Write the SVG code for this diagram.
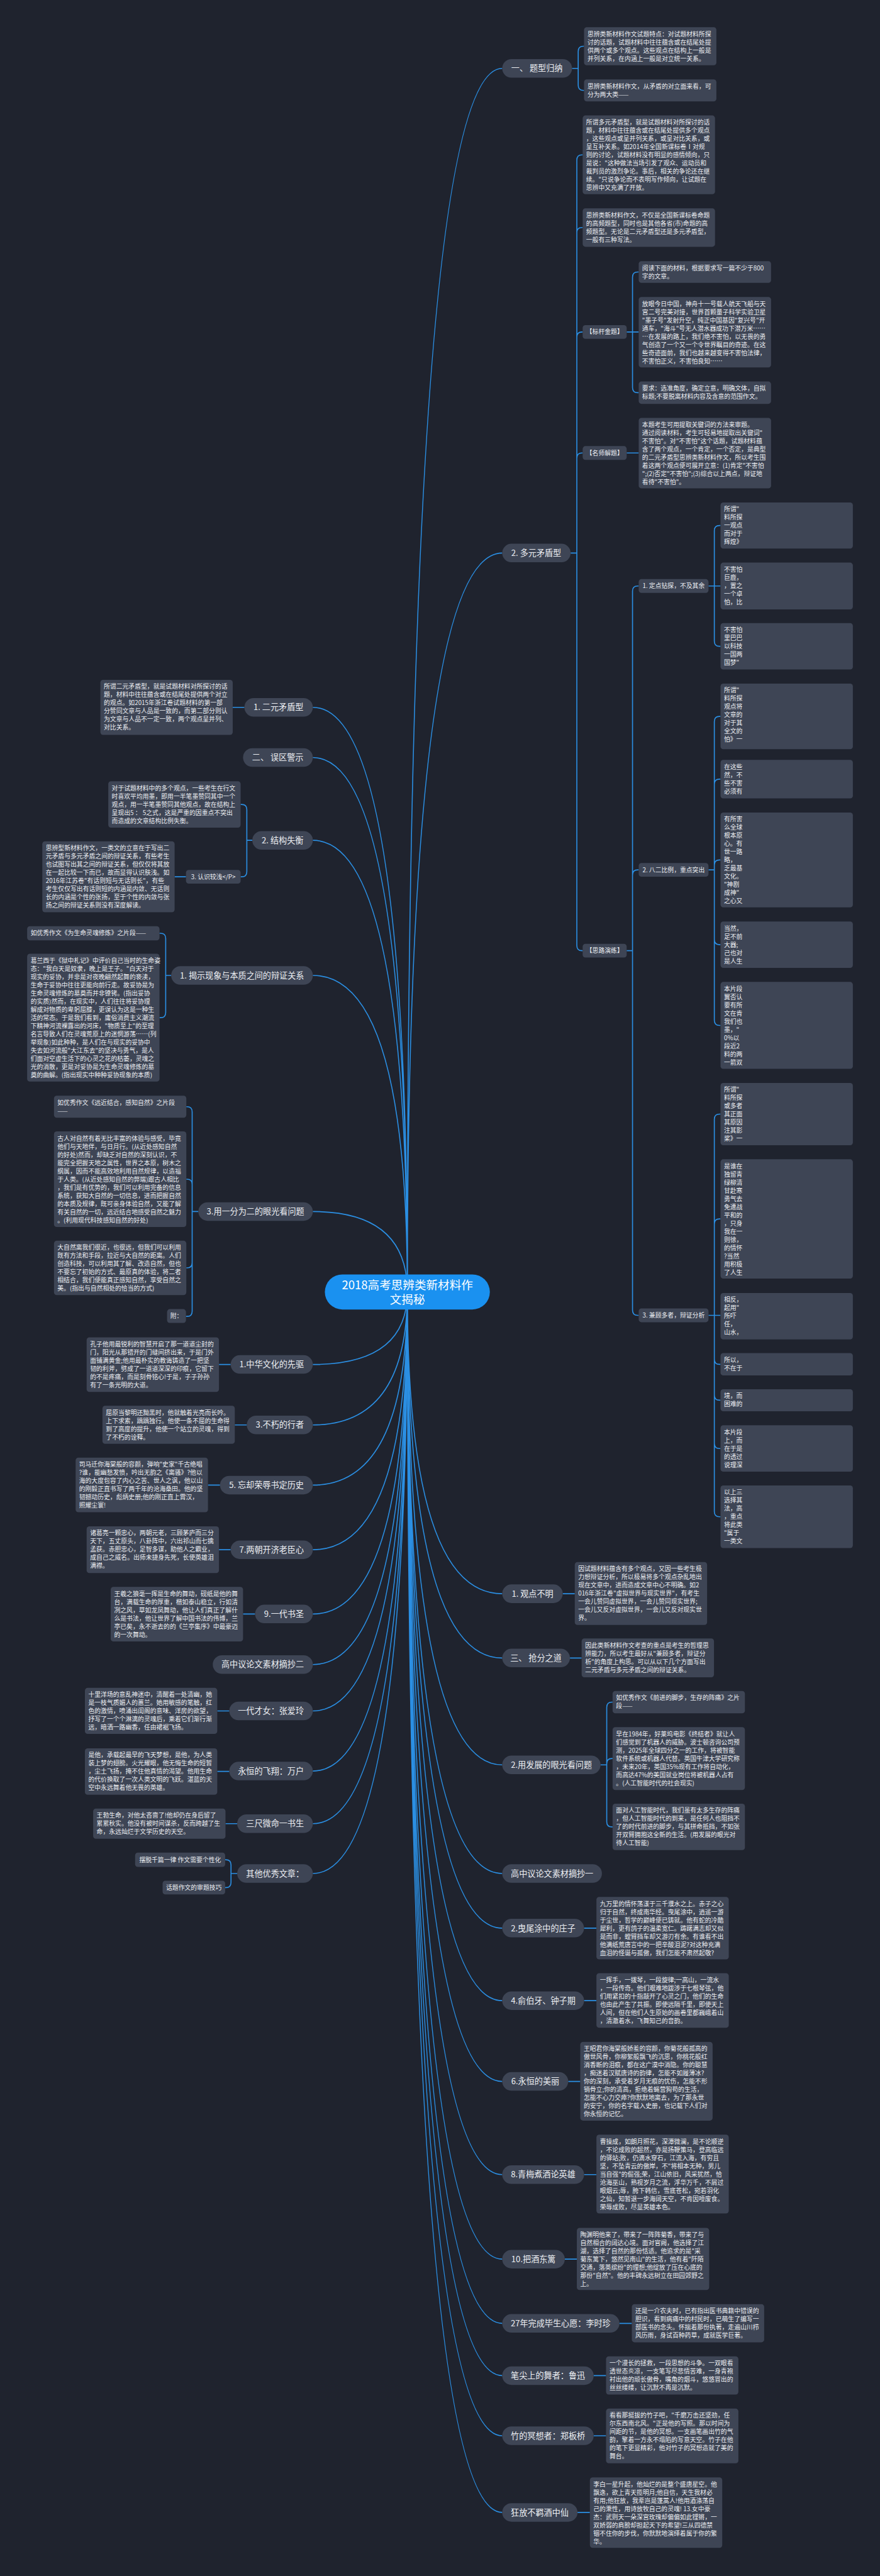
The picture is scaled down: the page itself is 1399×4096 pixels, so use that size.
<svg xmlns="http://www.w3.org/2000/svg" width="1399" height="4096" viewBox="0 0 1399 4096">
<style>
.b{fill:#3e4555}
.t{font-family:"Noto Sans CJK SC","Noto Sans",sans-serif;font-size:18px;fill:#eceef2}
.n{font-size:24px;text-anchor:middle}
.m{text-anchor:middle}
.c{stroke:#2b8fe3;stroke-width:3;fill:none}
</style>
<rect width="1399" height="4096" fill="#1f232e"/>
<g transform="scale(0.5465)">
<g id="connectors" class="c">
<path d="M1185 3759Q1185 199 1461 199M1185 3759Q1185 1609 1461 1609M1185 3759Q1185 4637 1461 4637M1185 3759Q1185 4824 1461 4824M1185 3759Q1185 5135 1461 5135M1185 3759Q1185 5451 1461 5451M1185 3759Q1185 5610 1461 5610M1185 3759Q1185 5821 1461 5821M1185 3759Q1185 6056 1461 6056M1185 3759Q1185 6327 1461 6327M1185 3759Q1185 6573 1461 6573M1185 3759Q1185 6760 1461 6760M1185 3759Q1185 6912 1461 6912M1185 3759Q1185 7087 1461 7087M1185 3759Q1185 7310 1461 7310"/>
<path d="M1185 3759Q1185 2058 910 2058M1185 3759Q1185 2204 910 2204M1185 3759Q1185 2445 910 2445M1185 3759Q1185 2838 910 2838M1185 3759Q1185 3525 910 3525M1185 3759Q1185 3970 910 3970M1185 3759Q1185 4146 910 4146M1185 3759Q1185 4321 910 4321M1185 3759Q1185 4509 910 4509M1185 3759Q1185 4696 910 4696M1185 3759Q1185 4843 910 4843M1185 3759Q1185 4978 910 4978M1185 3759Q1185 5153 910 5153M1185 3759Q1185 5306 910 5306M1185 3759Q1185 5451 910 5451"/>
<path d="M1664 199H1682M1682 199V149.5Q1682 134.5 1697 134.5H1699M1682 199V248Q1682 263 1697 263H1699"/>
<path d="M1660 1609H1678M1678 1609V465.5Q1678 450.5 1693 450.5H1695M1678 1609V677Q1678 662 1693 662H1695M1678 1609V981Q1678 966 1693 966H1695M1678 1609V1333Q1678 1318 1693 1318H1695M1678 1609V2751Q1678 2766 1693 2766H1695"/>
<path d="M1823 966H1858M1840 966V806.5Q1840 791.5 1855 791.5H1858M1840 966V1127.5Q1840 1142.5 1855 1142.5H1858M1823 1318H1858"/>
<path d="M1823 2766H1840M1840 2766V1720Q1840 1705 1855 1705H1858M1840 2766V2546Q1840 2531 1855 2531H1858M1840 2766V3812Q1840 3827 1855 3827H1858"/>
<path d="M2061 1705H2096M2078 1705V1544Q2078 1529 2093 1529H2096M2078 1705V1865.5Q2078 1880.5 2093 1880.5H2096"/>
<path d="M2061 2531H2078M2078 2531V2099.5Q2078 2084.5 2093 2084.5H2096M2078 2531V2282Q2078 2267 2093 2267H2096M2078 2531V2517Q2078 2502 2093 2502H2096M2078 2531V2733.5Q2078 2748.5 2093 2748.5H2096M2078 2531V2968.5Q2078 2983.5 2093 2983.5H2096"/>
<path d="M2061 3827H2096M2078 3827V3256.5Q2078 3241.5 2093 3241.5H2096M2078 3827V3561.5Q2078 3546.5 2093 3546.5H2096M2078 3827V3954.5Q2078 3969.5 2093 3969.5H2096M2078 3827V4059Q2078 4074 2093 4074H2096M2078 3827V4199.5Q2078 4214.5 2093 4214.5H2096M2078 3827V4398Q2078 4413 2093 4413H2096"/>
<path d="M1637 4637H1672M1658 4824H1692"/>
<path d="M1747 5135H1765M1765 5135V4967.5Q1765 4952.5 1780 4952.5H1782M1765 5135V5131.5Q1765 5116.5 1780 5116.5H1782M1765 5135V5300.5Q1765 5315.5 1780 5315.5H1782"/>
<path d="M1699 5610H1735M1699 5821H1735M1653 6056H1688M1699 6327H1735M1643 6573H1678M1802 6760H1838M1727 6912H1763M1727 7087H1763M1680 7310H1716"/>
<path d="M677 2058H711M734 2445H718M718 2445V2355.5Q718 2340.5 703 2340.5H700M718 2445V2536Q718 2551 703 2551H700M541 2551H508"/>
<path d="M498 2838H482M482 2838V2730.5Q482 2715.5 467 2715.5H464M482 2838V2946Q482 2961 467 2961H464"/>
<path d="M577 3525H559M559 3525V3235Q559 3220 544 3220H542M559 3525V3446Q559 3431 544 3431H542M559 3525V3674Q559 3689 544 3689H542M559 3525V3815Q559 3830 544 3830H541"/>
<path d="M637 3970H671M683 4146H718M605 4321H640M637 4509H671M707 4696H742M632 4978H667M632 5154H667M656 5306H690"/>
<path d="M690 5451H672M672 5451V5426Q672 5411 657 5411H655M672 5451V5477Q672 5492 657 5492H655"/>
</g>
<g id="root"><rect x="945" y="3708" width="480" height="102" rx="51" fill="#1a91f0"/><text class="t m" x="1185" y="3752" style="font-size:34px;fill:#fff">2018高考思辨类新材料作</text><text class="t m" x="1185" y="3794" style="font-size:34px;fill:#fff">文揭秘</text></g>
<g id="main-nodes">
<g id="n-r1"><rect class="b" x="1461" y="172" width="203" height="54" rx="27"/><text class="t n" x="1562" y="207.5">一、 题型归纳</text></g>
<g id="n-r2"><rect class="b" x="1461" y="1582" width="199" height="54" rx="27"/><text class="t n" x="1560" y="1617.5">2. 多元矛盾型</text></g>
<g id="n-r3"><rect class="b" x="1461" y="4610" width="176" height="54" rx="27"/><text class="t n" x="1549" y="4645.5">1. 观点不明</text></g>
<g id="n-r4"><rect class="b" x="1461" y="4797" width="197" height="54" rx="27"/><text class="t n" x="1559" y="4832.5">三、 抢分之道</text></g>
<g id="n-r5"><rect class="b" x="1461" y="5108" width="286" height="54" rx="27"/><text class="t n" x="1604" y="5143.5">2.用发展的眼光看问题</text></g>
<g id="n-r6"><rect class="b" x="1461" y="5424" width="290" height="54" rx="27"/><text class="t n" x="1606" y="5459.5">高中议论文素材摘抄一</text></g>
<g id="n-r7"><rect class="b" x="1461" y="5583" width="238" height="54" rx="27"/><text class="t n" x="1580" y="5618.5">2.曳尾涂中的庄子</text></g>
<g id="n-r8"><rect class="b" x="1461" y="5794" width="238" height="54" rx="27"/><text class="t n" x="1580" y="5829.5">4.俞伯牙、钟子期</text></g>
<g id="n-r9"><rect class="b" x="1461" y="6029" width="192" height="54" rx="27"/><text class="t n" x="1557" y="6064.5">6.永恒的美丽</text></g>
<g id="n-r10"><rect class="b" x="1461" y="6300" width="238" height="54" rx="27"/><text class="t n" x="1580" y="6335.5">8.青梅煮酒论英雄</text></g>
<g id="n-r11"><rect class="b" x="1461" y="6546" width="182" height="54" rx="27"/><text class="t n" x="1552" y="6581.5">10.把酒东篱</text></g>
<g id="n-r12"><rect class="b" x="1461" y="6733" width="341" height="54" rx="27"/><text class="t n" x="1631" y="6768.5">27年完成毕生心愿：李时珍</text></g>
<g id="n-r13"><rect class="b" x="1461" y="6885" width="266" height="54" rx="27"/><text class="t n" x="1594" y="6920.5">笔尖上的舞者：鲁迅</text></g>
<g id="n-r14"><rect class="b" x="1461" y="7060" width="266" height="54" rx="27"/><text class="t n" x="1594" y="7095.5">竹的冥想者：郑板桥</text></g>
<g id="n-r15"><rect class="b" x="1461" y="7283" width="219" height="54" rx="27"/><text class="t n" x="1570" y="7318.5">狂放不羁酒中仙</text></g>
<g id="n-l1"><rect class="b" x="711" y="2031" width="199" height="54" rx="27"/><text class="t n" x="810" y="2066.5">1. 二元矛盾型</text></g>
<g id="n-l2"><rect class="b" x="707" y="2177" width="203" height="54" rx="27"/><text class="t n" x="808" y="2212.5">二、 误区警示</text></g>
<g id="n-l3"><rect class="b" x="734" y="2418" width="176" height="54" rx="27"/><text class="t n" x="822" y="2453.5">2. 结构失衡</text></g>
<g id="n-l4"><rect class="b" x="498" y="2811" width="412" height="54" rx="27"/><text class="t n" x="704" y="2846.5">1. 揭示现象与本质之间的辩证关系</text></g>
<g id="n-l5"><rect class="b" x="577" y="3498" width="333" height="54" rx="27"/><text class="t n" x="743" y="3533.5">3.用一分为二的眼光看问题</text></g>
<g id="n-l6"><rect class="b" x="671" y="3943" width="239" height="54" rx="27"/><text class="t n" x="790" y="3978.5">1.中华文化的先驱</text></g>
<g id="n-l7"><rect class="b" x="718" y="4119" width="192" height="54" rx="27"/><text class="t n" x="814" y="4154.5">3.不朽的行者</text></g>
<g id="n-l8"><rect class="b" x="640" y="4294" width="270" height="54" rx="27"/><text class="t n" x="775" y="4329.5">5. 忘却荣辱书定历史</text></g>
<g id="n-l9"><rect class="b" x="671" y="4482" width="239" height="54" rx="27"/><text class="t n" x="790" y="4517.5">7.两朝开济老臣心</text></g>
<g id="n-l10"><rect class="b" x="742" y="4669" width="168" height="54" rx="27"/><text class="t n" x="826" y="4704.5">9.一代书圣</text></g>
<g id="n-l11"><rect class="b" x="619" y="4816" width="291" height="54" rx="27"/><text class="t n" x="764" y="4851.5">高中议论文素材摘抄二</text></g>
<g id="n-l12"><rect class="b" x="667" y="4951" width="243" height="54" rx="27"/><text class="t n" x="788" y="4986.5">一代才女：张爱玲</text></g>
<g id="n-l13"><rect class="b" x="667" y="5126" width="243" height="54" rx="27"/><text class="t n" x="788" y="5161.5">永恒的飞翔：万户</text></g>
<g id="n-l14"><rect class="b" x="690" y="5279" width="220" height="54" rx="27"/><text class="t n" x="800" y="5314.5">三尺微命一书生</text></g>
<g id="n-l15"><rect class="b" x="690" y="5424" width="220" height="54" rx="27"/><text class="t n" x="800" y="5459.5">其他优秀文章：</text></g>
</g>
<g id="sub-nodes">
<g id="s1"><rect class="b" x="1695" y="946" width="128" height="40" rx="8"/><text class="t m" x="1759" y="972.5">【标杆金题】</text></g>
<g id="s2"><rect class="b" x="1695" y="1298" width="128" height="40" rx="8"/><text class="t m" x="1759" y="1324.5">【名师解题】</text></g>
<g id="s3"><rect class="b" x="1695" y="2746" width="128" height="40" rx="8"/><text class="t m" x="1759" y="2772.5">【思路演练】</text></g>
<g id="s4"><rect class="b" x="1858" y="1685" width="203" height="40" rx="8"/><text class="t m" x="1959.5" y="1711.5">1. 定点钻探，不及其余</text></g>
<g id="s5"><rect class="b" x="1858" y="2511" width="203" height="40" rx="8"/><text class="t m" x="1959.5" y="2537.5">2. 八二比例，重点突出</text></g>
<g id="s6"><rect class="b" x="1858" y="3807" width="203" height="40" rx="8"/><text class="t m" x="1959.5" y="3833.5">3. 兼顾多者，辩证分析</text></g>
<g id="s7"><rect class="b" x="541" y="2531" width="159" height="40" rx="8"/><text class="t m" x="620.5" y="2557.5">3. 认识较浅&lt;/P&gt;</text></g>
<g id="s8"><rect class="b" x="486" y="3809" width="55" height="40" rx="8"/><text class="t m" x="513.5" y="3835.5">附：</text></g>
<g id="s9"><rect class="b" x="393" y="5390" width="262" height="42" rx="8"/><text class="t m" x="524" y="5417.5">摆脱千篇一律 作文需要个性化</text></g>
<g id="s10"><rect class="b" x="473" y="5472" width="182" height="40" rx="8"/><text class="t m" x="564" y="5498.5">话题作文的审题技巧</text></g>
</g>
<g id="boxes">
<g id="A1"><rect class="b" x="1699" y="79" width="385" height="111" rx="8"/><text class="t" transform="translate(1709,105.4)"><tspan x="0" y="0">思辨类新材料作文试题特点：对试题材料所探</tspan><tspan x="0" y="23.8">讨的话题，试题材料中往往蕴含或在结尾处提</tspan><tspan x="0" y="47.6">供两个或多个观点。这些观点在结构上一般是</tspan><tspan x="0" y="71.4">并列关系，在内涵上一般是对立统一关系。</tspan></text></g>
<g id="A2"><rect class="b" x="1699" y="231" width="385" height="64" rx="8"/><text class="t" transform="translate(1709,257.4)"><tspan x="0" y="0">思辨类新材料作文，从矛盾的对立面来看，可</tspan><tspan x="0" y="23.8">分为两大类——</tspan></text></g>
<g id="B1"><rect class="b" x="1695" y="336" width="385" height="229" rx="8"/><text class="t" transform="translate(1705,362.4)"><tspan x="0" y="0">所谓多元矛盾型，就是试题材料对所探讨的话</tspan><tspan x="0" y="23.8">题，材料中往往蕴含或在结尾处提供多个观点</tspan><tspan x="0" y="47.6">，这些观点或呈并列关系，或呈对比关系，或</tspan><tspan x="0" y="71.4">呈互补关系。如2014年全国新课标卷Ⅰ对规</tspan><tspan x="0" y="95.2">则的讨论，试题材料没有明显的感情倾向，只</tspan><tspan x="0" y="119">是说："这种做法当场引发了观众、运动员和</tspan><tspan x="0" y="142.8">裁判员的激烈争论。事后，相关的争论还在继</tspan><tspan x="0" y="166.6">续。"只说争论而不表明写作倾向，让试题在</tspan><tspan x="0" y="190.4">思辨中又充满了开放。</tspan></text></g>
<g id="B2"><rect class="b" x="1695" y="606" width="385" height="112" rx="8"/><text class="t" transform="translate(1705,632.4)"><tspan x="0" y="0">思辨类新材料作文，不仅是全国新课标卷命题</tspan><tspan x="0" y="23.8">的高频题型，同时也是其他各省(市)命题的高</tspan><tspan x="0" y="47.6">频题型。无论是二元矛盾型还是多元矛盾型，</tspan><tspan x="0" y="71.4">一般有三种写法。</tspan></text></g>
<g id="C1"><rect class="b" x="1858" y="760" width="385" height="63" rx="8"/><text class="t" transform="translate(1868,786.4)"><tspan x="0" y="0">阅读下面的材料，根据要求写一篇不少于800</tspan><tspan x="0" y="23.8">字的文章。</tspan></text></g>
<g id="C2"><rect class="b" x="1858" y="864" width="385" height="205" rx="8"/><text class="t" transform="translate(1868,890.4)"><tspan x="0" y="0">放眼今日中国，神舟十一号载人航天飞船与天</tspan><tspan x="0" y="23.8">宫二号完美对接，世界首颗量子科学实验卫星</tspan><tspan x="0" y="47.6">"墨子号"发射升空，纯正中国基因"复兴号"开</tspan><tspan x="0" y="71.4">通车，"海斗"号无人潜水器成功下潜万米……</tspan><tspan x="0" y="95.2">…在发展的路上，我们绝不害怕，以无畏的勇</tspan><tspan x="0" y="119">气创造了一个又一个令世界瞩目的奇迹。在这</tspan><tspan x="0" y="142.8">些奇迹面前，我们也越来越变得不害怕法律，</tspan><tspan x="0" y="166.6">不害怕正义，不害怕良知……</tspan></text></g>
<g id="C3"><rect class="b" x="1858" y="1110" width="385" height="65" rx="8"/><text class="t" transform="translate(1868,1136.4)"><tspan x="0" y="0">要求：选准角度，确定立意，明确文体，自拟</tspan><tspan x="0" y="23.8">标题;不要脱离材料内容及含意的范围作文。</tspan></text></g>
<g id="D1"><rect class="b" x="1858" y="1216" width="385" height="205" rx="8"/><text class="t" transform="translate(1868,1242.4)"><tspan x="0" y="0">本题考生可用提取关键词的方法来审题。</tspan><tspan x="0" y="23.8">通过阅读材料，考生可轻易地提取出关键词"</tspan><tspan x="0" y="47.6">不害怕"。对"不害怕"这个话题，试题材料蕴</tspan><tspan x="0" y="71.4">含了两个观点，一个肯定，一个否定，是典型</tspan><tspan x="0" y="95.2">的二元矛盾型思辨类新材料作文，所以考生围</tspan><tspan x="0" y="119">着这两个观点便可展开立意：(1)肯定"不害怕</tspan><tspan x="0" y="142.8">";(2)否定"不害怕";(3)综合以上两点，辩证地</tspan><tspan x="0" y="166.6">看待"不害怕"。</tspan></text></g>
<g id="E1"><rect class="b" x="2096" y="1462" width="385" height="134" rx="8"/><text class="t" transform="translate(2106,1488.4)"><tspan x="0" y="0">所谓"</tspan><tspan x="0" y="23.8">料所探</tspan><tspan x="0" y="47.6">一观点</tspan><tspan x="0" y="71.4">而对于</tspan><tspan x="0" y="95.2">辉煌》</tspan></text></g>
<g id="E2"><rect class="b" x="2096" y="1637" width="385" height="136" rx="8"/><text class="t" transform="translate(2106,1663.4)"><tspan x="0" y="0">不害怕</tspan><tspan x="0" y="23.8">巨鹿，</tspan><tspan x="0" y="47.6">，置之</tspan><tspan x="0" y="71.4">一个卓</tspan><tspan x="0" y="95.2">怕，比</tspan></text></g>
<g id="E3"><rect class="b" x="2096" y="1813" width="385" height="135" rx="8"/><text class="t" transform="translate(2106,1839.4)"><tspan x="0" y="0">不害怕</tspan><tspan x="0" y="23.8">里巴巴</tspan><tspan x="0" y="47.6">以科技</tspan><tspan x="0" y="71.4">一国两</tspan><tspan x="0" y="95.2">国梦"</tspan></text></g>
<g id="F1"><rect class="b" x="2096" y="1989" width="385" height="191" rx="8"/><text class="t" transform="translate(2106,2015.4)"><tspan x="0" y="0">所谓"</tspan><tspan x="0" y="23.8">料所探</tspan><tspan x="0" y="47.6">观点将</tspan><tspan x="0" y="71.4">文章的</tspan><tspan x="0" y="95.2">对于其</tspan><tspan x="0" y="119">全文的</tspan><tspan x="0" y="142.8">怕》一</tspan></text></g>
<g id="F2"><rect class="b" x="2096" y="2211" width="385" height="112" rx="8"/><text class="t" transform="translate(2106,2237.4)"><tspan x="0" y="0">在这些</tspan><tspan x="0" y="23.8">然，不</tspan><tspan x="0" y="47.6">些不害</tspan><tspan x="0" y="71.4">必须有</tspan></text></g>
<g id="F3"><rect class="b" x="2096" y="2364" width="385" height="276" rx="8"/><text class="t" transform="translate(2106,2390.4)"><tspan x="0" y="0">有所害</tspan><tspan x="0" y="23.8">么全球</tspan><tspan x="0" y="47.6">根本原</tspan><tspan x="0" y="71.4">心。有</tspan><tspan x="0" y="95.2">世一路</tspan><tspan x="0" y="119">略，</tspan><tspan x="0" y="142.8">乏最基</tspan><tspan x="0" y="166.6">文化。</tspan><tspan x="0" y="190.4">"神剧</tspan><tspan x="0" y="214.2">成神"</tspan><tspan x="0" y="238">之心又</tspan></text></g>
<g id="F4"><rect class="b" x="2096" y="2681" width="385" height="135" rx="8"/><text class="t" transform="translate(2106,2707.4)"><tspan x="0" y="0">当然，</tspan><tspan x="0" y="23.8">足不前</tspan><tspan x="0" y="47.6">大器;</tspan><tspan x="0" y="71.4">己也对</tspan><tspan x="0" y="95.2">是人生</tspan></text></g>
<g id="F5"><rect class="b" x="2096" y="2857" width="385" height="253" rx="8"/><text class="t" transform="translate(2106,2883.4)"><tspan x="0" y="0">本片段</tspan><tspan x="0" y="23.8">翼否认</tspan><tspan x="0" y="47.6">要有所</tspan><tspan x="0" y="71.4">文在肯</tspan><tspan x="0" y="95.2">我们也</tspan><tspan x="0" y="119">墨，"</tspan><tspan x="0" y="142.8">0%以</tspan><tspan x="0" y="166.6">段近2</tspan><tspan x="0" y="190.4">料的两</tspan><tspan x="0" y="214.2">一箭双</tspan></text></g>
<g id="G1"><rect class="b" x="2096" y="3151" width="385" height="181" rx="8"/><text class="t" transform="translate(2106,3177.4)"><tspan x="0" y="0">所谓"</tspan><tspan x="0" y="23.8">料所探</tspan><tspan x="0" y="47.6">或多者</tspan><tspan x="0" y="71.4">其正面</tspan><tspan x="0" y="95.2">其原因</tspan><tspan x="0" y="119">注其影</tspan><tspan x="0" y="142.8">桨》一</tspan></text></g>
<g id="G2"><rect class="b" x="2096" y="3373" width="385" height="347" rx="8"/><text class="t" transform="translate(2106,3399.4)"><tspan x="0" y="0">是谁在</tspan><tspan x="0" y="23.8">独留青</tspan><tspan x="0" y="47.6">绿柳清</tspan><tspan x="0" y="71.4">甘赴寒</tspan><tspan x="0" y="95.2">勇气去</tspan><tspan x="0" y="119">免遭战</tspan><tspan x="0" y="142.8">平和的</tspan><tspan x="0" y="166.6">，只身</tspan><tspan x="0" y="190.4">我在一</tspan><tspan x="0" y="214.2">则徐，</tspan><tspan x="0" y="238">的情怀</tspan><tspan x="0" y="261.8">?当然</tspan><tspan x="0" y="285.6">用积极</tspan><tspan x="0" y="309.4">了人生</tspan></text></g>
<g id="G3"><rect class="b" x="2096" y="3762" width="385" height="135" rx="8"/><text class="t" transform="translate(2106,3788.4)"><tspan x="0" y="0">相反，</tspan><tspan x="0" y="23.8">起用"</tspan><tspan x="0" y="47.6">所吓</tspan><tspan x="0" y="71.4">任，</tspan><tspan x="0" y="95.2">山水，</tspan></text></g>
<g id="G4"><rect class="b" x="2096" y="3937" width="385" height="65" rx="8"/><text class="t" transform="translate(2106,3963.4)"><tspan x="0" y="0">所以，</tspan><tspan x="0" y="23.8">不在于</tspan></text></g>
<g id="G5"><rect class="b" x="2096" y="4042" width="385" height="64" rx="8"/><text class="t" transform="translate(2106,4068.4)"><tspan x="0" y="0">境，而</tspan><tspan x="0" y="23.8">困难的</tspan></text></g>
<g id="G6"><rect class="b" x="2096" y="4147" width="385" height="135" rx="8"/><text class="t" transform="translate(2106,4173.4)"><tspan x="0" y="0">本片段</tspan><tspan x="0" y="23.8">上，而</tspan><tspan x="0" y="47.6">在于是</tspan><tspan x="0" y="71.4">的透过</tspan><tspan x="0" y="95.2">说理深</tspan></text></g>
<g id="G7"><rect class="b" x="2096" y="4322" width="385" height="182" rx="8"/><text class="t" transform="translate(2106,4348.4)"><tspan x="0" y="0">以上三</tspan><tspan x="0" y="23.8">选择其</tspan><tspan x="0" y="47.6">法，高</tspan><tspan x="0" y="71.4">，重点</tspan><tspan x="0" y="95.2">将此类</tspan><tspan x="0" y="119">"属于</tspan><tspan x="0" y="142.8">一类文</tspan></text></g>
<g id="P1"><rect class="b" x="1672" y="4545" width="385" height="183" rx="8"/><text class="t" transform="translate(1682,4571.4)"><tspan x="0" y="0">因试题材料蕴含有多个观点，又因一些考生极</tspan><tspan x="0" y="23.8">力想辩证分析，所以极易将多个观点杂乱地出</tspan><tspan x="0" y="47.6">现在文章中，进而造成文章中心不明确。如2</tspan><tspan x="0" y="71.4">016年浙江卷"虚拟世界与现实世界"，有考生</tspan><tspan x="0" y="95.2">一会儿赞同虚拟世界，一会儿赞同现实世界;</tspan><tspan x="0" y="119">一会儿又反对虚拟世界，一会儿又反对现实世</tspan><tspan x="0" y="142.8">界。</tspan></text></g>
<g id="P2"><rect class="b" x="1692" y="4767" width="385" height="113" rx="8"/><text class="t" transform="translate(1702,4793.4)"><tspan x="0" y="0">因此类新材料作文考查的重点是考生的哲理思</tspan><tspan x="0" y="23.8">辨能力，所以考生最好从"兼顾多者，辩证分</tspan><tspan x="0" y="47.6">析"的角度上构思。可以从以下几个方面写出</tspan><tspan x="0" y="71.4">二元矛盾与多元矛盾之间的辩证关系。</tspan></text></g>
<g id="H1"><rect class="b" x="1782" y="4920" width="385" height="65" rx="8"/><text class="t" transform="translate(1792,4946.4)"><tspan x="0" y="0">如优秀作文《前进的脚步，生存的阵痛》之片</tspan><tspan x="0" y="23.8">段——</tspan></text></g>
<g id="H2"><rect class="b" x="1782" y="5025" width="385" height="183" rx="8"/><text class="t" transform="translate(1792,5051.4)"><tspan x="0" y="0">早在1984年，好莱坞电影《终结者》就让人</tspan><tspan x="0" y="23.8">们感觉到了机器人的威胁。波士顿咨询公司预</tspan><tspan x="0" y="47.6">测，2025年全球四分之一的工作，将被智能</tspan><tspan x="0" y="71.4">软件系统或机器人代替。英国牛津大学研究称</tspan><tspan x="0" y="95.2">，未来20年，英国35%现有工作将自动化，</tspan><tspan x="0" y="119">而高达47%的美国就业岗位将被机器人占有</tspan><tspan x="0" y="142.8">。(人工智能时代的社会现实)</tspan></text></g>
<g id="H3"><rect class="b" x="1782" y="5248" width="385" height="135" rx="8"/><text class="t" transform="translate(1792,5274.4)"><tspan x="0" y="0">面对人工智能时代，我们虽有太多生存的阵痛</tspan><tspan x="0" y="23.8">，但人工智能时代的到来，是任何人也阻挡不</tspan><tspan x="0" y="47.6">了的时代前进的脚步，与其拼命抵挡，不如张</tspan><tspan x="0" y="71.4">开双臂拥抱这全新的生活。(用发展的眼光对</tspan><tspan x="0" y="95.2">待人工智能)</tspan></text></g>
<g id="I1"><rect class="b" x="1735" y="5519" width="385" height="182" rx="8"/><text class="t" transform="translate(1745,5545.4)"><tspan x="0" y="0">九万里的情怀荡漾于三千濮水之上。赤子之心</tspan><tspan x="0" y="23.8">归于自然，终成南华经。曳尾涂中，逍遥一游</tspan><tspan x="0" y="47.6">于尘世，哲学的巅峰便已铸就。他有蛇的冷酷</tspan><tspan x="0" y="71.4">犀利，更有鸽子的温柔宽仁。踌躇满志却又似</tspan><tspan x="0" y="95.2">是而非，螳臂挡车却又游刃有余。有谁看不出</tspan><tspan x="0" y="119">他满纸荒唐言中的一把辛酸泪泥?对这种充满</tspan><tspan x="0" y="142.8">血泪的怪诞与孤傲，我们怎能不肃然起敬?</tspan></text></g>
<g id="I2"><rect class="b" x="1735" y="5741" width="385" height="159" rx="8"/><text class="t" transform="translate(1745,5767.4)"><tspan x="0" y="0">一挥手，一拨琴，一段旋律;一高山，一流水</tspan><tspan x="0" y="23.8">，一段传奇。他们艰难地跋涉于七根琴弦，他</tspan><tspan x="0" y="47.6">们用紧扣的十指敲开了心灵之门，他们的生命</tspan><tspan x="0" y="71.4">也由此产生了共振。即使远隔千里，即使天上</tspan><tspan x="0" y="95.2">人间，但在他们人生原始的画卷里都巍峨着山</tspan><tspan x="0" y="119">，清澈着水，飞舞知己的音韵。</tspan></text></g>
<g id="I3"><rect class="b" x="1688" y="5941" width="385" height="229" rx="8"/><text class="t" transform="translate(1698,5967.4)"><tspan x="0" y="0">王昭君你海棠般娇羞的容颜，你菊花般孤高的</tspan><tspan x="0" y="23.8">傲世风骨，你柳絮般飘飞的沉思，你桃花般红</tspan><tspan x="0" y="47.6">消香断的泪痕，都在这广漠中消隐。你的聪慧</tspan><tspan x="0" y="71.4">，痴迷着汉赋唐诗的韵律，怎能不如履薄冰?</tspan><tspan x="0" y="95.2">你的深刻，承受着岁月无痕的忧伤，怎能不形</tspan><tspan x="0" y="119">销骨立;你的清高，拒绝着蝇营狗苟的生活，</tspan><tspan x="0" y="142.8">怎能不心力交瘁?你默默地离去，为了那永世</tspan><tspan x="0" y="166.6">的安宁，你的名字载入史册，也记载下人们对</tspan><tspan x="0" y="190.4">你永恒的记忆。</tspan></text></g>
<g id="I4"><rect class="b" x="1735" y="6211" width="385" height="229" rx="8"/><text class="t" transform="translate(1745,6237.4)"><tspan x="0" y="0">曹操成，如朗月照花，深潭微澜，是不论顺逆</tspan><tspan x="0" y="23.8">，不论成败的超然，亦是扬鞭策马，登高临远</tspan><tspan x="0" y="47.6">的驿站;败，仍滴水穿石，江流入海，有穷且</tspan><tspan x="0" y="71.4">坚，不坠青云的傲岸，不"将相本无种，男儿</tspan><tspan x="0" y="95.2">当自强"的倔强;荣，江山依旧，风采犹然，恰</tspan><tspan x="0" y="119">沧海巫山，熟视岁月之流，浮华万千，不屑过</tspan><tspan x="0" y="142.8">眼烟云;辱，胯下韩信，雪底苍松，宛若羽化</tspan><tspan x="0" y="166.6">之仙，知暂退一步海阔天空，不肯因噎废食。</tspan><tspan x="0" y="190.4">荣辱成败，尽显英雄本色。</tspan></text></g>
<g id="I5"><rect class="b" x="1678" y="6482" width="385" height="181" rx="8"/><text class="t" transform="translate(1688,6508.4)"><tspan x="0" y="0">陶渊明他来了，带来了一阵阵菊香，带来了与</tspan><tspan x="0" y="23.8">自然相合的阔达心境。面对官阙，他选择了江</tspan><tspan x="0" y="47.6">湖，选择了自然的那份恬适。他追求的是"采</tspan><tspan x="0" y="71.4">菊东篱下，悠然见南山"的生活，他有着"阡陌</tspan><tspan x="0" y="95.2">交通，落英缤纷"的理想;他绽放了压在心底的</tspan><tspan x="0" y="119">那份"自然"。他的丰碑永远树立在田园郊野之</tspan><tspan x="0" y="142.8">上。</tspan></text></g>
<g id="I6"><rect class="b" x="1838" y="6704" width="385" height="111" rx="8"/><text class="t" transform="translate(1848,6730.4)"><tspan x="0" y="0">还是一介农夫时，已有指出医书典籍中错误的</tspan><tspan x="0" y="23.8">胆识，看到病痛中的村民时，已萌生了编写一</tspan><tspan x="0" y="47.6">部医书的念头。怀揣着那份执著，走遍山川栉</tspan><tspan x="0" y="71.4">风历雨，身试百种药草，成就医学巨著。</tspan></text></g>
<g id="I7"><rect class="b" x="1763" y="6856" width="385" height="111" rx="8"/><text class="t" transform="translate(1773,6882.4)"><tspan x="0" y="0">一个漫长的拯救，一段思想的斗争。一双眼看</tspan><tspan x="0" y="23.8">透世态炎凉，一支笔写尽悲情苦难，一身青袍</tspan><tspan x="0" y="47.6">衬出他的顽长傲骨，嘴角的烟斗，悠悠冒出的</tspan><tspan x="0" y="71.4">丝丝缕缕，让沉默不再是沉默。</tspan></text></g>
<g id="I8"><rect class="b" x="1763" y="7008" width="385" height="159" rx="8"/><text class="t" transform="translate(1773,7034.4)"><tspan x="0" y="0">看看那挺拔的竹子吧，"千磨万击还坚劲，任</tspan><tspan x="0" y="23.8">尔东西南北风。"正是他的写照。那以时间为</tspan><tspan x="0" y="47.6">间距的节，是他的冥想。一支画笔画出竹的气</tspan><tspan x="0" y="71.4">韵，擎着一方永不塌陷的写意天空。竹子在他</tspan><tspan x="0" y="95.2">的笔下更显精彩，他对竹子的冥想造就了美的</tspan><tspan x="0" y="119">舞台。</tspan></text></g>
<g id="I9"><rect class="b" x="1716" y="7208" width="385" height="205" rx="8"/><text class="t" transform="translate(1726,7234.4)"><tspan x="0" y="0">李白一星升起，他灿烂的是整个盛唐星空。他</tspan><tspan x="0" y="23.8">飘逸，欲上青天揽明月;他自信，天生我材必</tspan><tspan x="0" y="47.6">有用;他狂放，我辈岂是蓬蒿人!他用酒涤荡自</tspan><tspan x="0" y="71.4">己的秉性，用诗放牧自己的灵魂! 13.女中豪</tspan><tspan x="0" y="95.2">杰：武则天一朵深宫玫瑰却偏偏如此铿锵，一</tspan><tspan x="0" y="119">双娇弱的肩膀却担起天下的希望!三从四德禁</tspan><tspan x="0" y="142.8">锢不住你的步伐，你默默地演绎着属于你的繁</tspan><tspan x="0" y="166.6">华。</tspan></text></g>
<g id="K1"><rect class="b" x="292" y="1978" width="385" height="160" rx="8"/><text class="t" transform="translate(302,2004.4)"><tspan x="0" y="0">所谓二元矛盾型，就是试题材料对所探讨的话</tspan><tspan x="0" y="23.8">题，材料中往往蕴含或在结尾处提供两个对立</tspan><tspan x="0" y="47.6">的观点。如2015年浙江卷试题材料的第一部</tspan><tspan x="0" y="71.4">分赞同文章与人品是一致的，而第二部分则认</tspan><tspan x="0" y="95.2">为文章与人品不一定一致，两个观点呈并列、</tspan><tspan x="0" y="119">对比关系。</tspan></text></g>
<g id="K2"><rect class="b" x="315" y="2273" width="385" height="135" rx="8"/><text class="t" transform="translate(325,2299.4)"><tspan x="0" y="0">对于试题材料中的多个观点，一些考生在行文</tspan><tspan x="0" y="23.8">时喜欢平均用墨，即用一半笔墨赞同其中一个</tspan><tspan x="0" y="47.6">观点，用一半笔墨赞同其他观点，故在结构上</tspan><tspan x="0" y="71.4">呈现出5 ： 5之式，这是严重的因重点不突出</tspan><tspan x="0" y="95.2">而造成的文章结构比例失衡。</tspan></text></g>
<g id="K3"><rect class="b" x="123" y="2448" width="385" height="206" rx="8"/><text class="t" transform="translate(133,2474.4)"><tspan x="0" y="0">思辨型新材料作文，一类文的立意在于写出二</tspan><tspan x="0" y="23.8">元矛盾与多元矛盾之间的辩证关系，有些考生</tspan><tspan x="0" y="47.6">也试图写出其之间的辩证关系，但仅仅将其放</tspan><tspan x="0" y="71.4">在一起比较一下而已，故而显得认识肤浅。如</tspan><tspan x="0" y="95.2">2016年江苏卷"有话则短与无话则长"，有些</tspan><tspan x="0" y="119">考生仅仅写出有话则短的内涵是内敛、无话则</tspan><tspan x="0" y="142.8">长的内涵是个性的张扬，至于个性的内敛与张</tspan><tspan x="0" y="166.6">扬之间的辩证关系则没有深度解读。</tspan></text></g>
<g id="K4"><rect class="b" x="79" y="2695" width="385" height="41" rx="8"/><text class="t" transform="translate(89,2721.4)"><tspan x="0" y="0">如优秀作文《为生命灵魂修炼》之片段——</tspan></text></g>
<g id="K5"><rect class="b" x="79" y="2775" width="385" height="372" rx="8"/><text class="t" transform="translate(89,2801.4)"><tspan x="0" y="0">葛兰西于《狱中札记》中评价自己当时的生命姿</tspan><tspan x="0" y="23.8">态："我白天是奴隶，晚上是王子。"白天对于</tspan><tspan x="0" y="47.6">现实的妥协，并非是对夜晚翩然起舞的亵渎，</tspan><tspan x="0" y="71.4">生命于妥协中往往更能向前行走。故妥协是为</tspan><tspan x="0" y="95.2">生命灵魂修炼的墓奠而并非镣铐。(指出妥协</tspan><tspan x="0" y="119">的实质)然而，在现实中，人们往往将妥协理</tspan><tspan x="0" y="142.8">解成对物质的卑躬屈膝，更误认为这是一种生</tspan><tspan x="0" y="166.6">活的常态。于是我们看到，庸俗消费主义潮流</tspan><tspan x="0" y="190.4">下精神河流裸露出的河床，"物质至上"的至理</tspan><tspan x="0" y="214.2">名言导致人们在灵魂荒原上的迷惘游荡……(列</tspan><tspan x="0" y="238">举现象)如此种种，是人们在与现实的妥协中</tspan><tspan x="0" y="261.8">失去如河流般"大江东去"的坚决与勇气，是人</tspan><tspan x="0" y="285.6">们面对空虚生活下的心灵之花的枯萎，灵魂之</tspan><tspan x="0" y="309.4">光的消散，更是对妥协是为生命灵魂修炼的墓</tspan><tspan x="0" y="333.2">奠的曲解。(指出现实中种种妥协现象的本质)</tspan></text></g>
<g id="K6"><rect class="b" x="157" y="3188" width="385" height="64" rx="8"/><text class="t" transform="translate(167,3214.4)"><tspan x="0" y="0">如优秀作文《远近结合，感知自然》之片段</tspan><tspan x="0" y="23.8">——</tspan></text></g>
<g id="K7"><rect class="b" x="157" y="3292" width="385" height="278" rx="8"/><text class="t" transform="translate(167,3318.4)"><tspan x="0" y="0">古人对自然有着无比丰富的体验与感受，毕竟</tspan><tspan x="0" y="23.8">他们与天地伴，与日月行。(从近处感知自然</tspan><tspan x="0" y="47.6">的好处)然而，却缺乏对自然的深刻认识，不</tspan><tspan x="0" y="71.4">能完全把握天地之属性，世界之本原，树木之</tspan><tspan x="0" y="95.2">纲属，因而不能高效地利用自然规律，以造福</tspan><tspan x="0" y="119">于人类。(从近处感知自然的弊端)跟古人相比</tspan><tspan x="0" y="142.8">，我们是有优势的，我们可以利用完备的信息</tspan><tspan x="0" y="166.6">系统，获知大自然的一切信息，进而把握自然</tspan><tspan x="0" y="190.4">的本质及规律，既可亲身体验自然，又能了解</tspan><tspan x="0" y="214.2">有关自然的一切，远近结合地感受自然之魅力</tspan><tspan x="0" y="238">。(利用现代科技感知自然的好处)</tspan></text></g>
<g id="K8"><rect class="b" x="157" y="3610" width="385" height="158" rx="8"/><text class="t" transform="translate(167,3636.4)"><tspan x="0" y="0">大自然离我们很近，也很远，但我们可以利用</tspan><tspan x="0" y="23.8">既有方法和手段，拉近与大自然的距离。人们</tspan><tspan x="0" y="47.6">创造科技，可以利用其了解、改造自然，但也</tspan><tspan x="0" y="71.4">不要忘了初始的方式、最原真的体验，将二者</tspan><tspan x="0" y="95.2">相结合，我们便能真正感知自然，享受自然之</tspan><tspan x="0" y="119">美。(指出与自然相处的恰当的方式)</tspan></text></g>
<g id="K9"><rect class="b" x="252" y="3891" width="385" height="159" rx="8"/><text class="t" transform="translate(262,3917.4)"><tspan x="0" y="0">孔子他用最锐利的智慧开启了那一道道尘封的</tspan><tspan x="0" y="23.8">门，阳光从那错开的门缝间挤出来，于是门外</tspan><tspan x="0" y="47.6">面铺满黄金;他用最朴实的教诲铸造了一把坚</tspan><tspan x="0" y="71.4">韧的利斧，劈成了一道道深深的印痕，它留下</tspan><tspan x="0" y="95.2">的不是疼痛，而是刻骨铭心!于是，子子孙孙</tspan><tspan x="0" y="119">有了一条光明的大道。</tspan></text></g>
<g id="K10"><rect class="b" x="298" y="4090" width="385" height="111" rx="8"/><text class="t" transform="translate(308,4116.4)"><tspan x="0" y="0">屈原当黎明还黝黑时，他就触着光亮而长吟。</tspan><tspan x="0" y="23.8">上下求索，踽踽独行。他使一条不屈的生命得</tspan><tspan x="0" y="47.6">到了高度的提升，他使一个站立的灵魂，得到</tspan><tspan x="0" y="71.4">了不朽的诠释。</tspan></text></g>
<g id="K11"><rect class="b" x="220" y="4241" width="385" height="159" rx="8"/><text class="t" transform="translate(230,4267.4)"><tspan x="0" y="0">司马迁你海棠般的容颜，弹响"史家"千古绝唱</tspan><tspan x="0" y="23.8">?谁，能幽愁发愤，吟出无韵之《离骚》?他以</tspan><tspan x="0" y="47.6">海的大度包容了内心之苦、世人之讽，他以山</tspan><tspan x="0" y="71.4">的刚毅正直书写了两千年的沧海桑田。他的坚</tspan><tspan x="0" y="95.2">韧撼动历史，彪炳史册;他的刚正直上霄汉，</tspan><tspan x="0" y="119">照耀尘寰!</tspan></text></g>
<g id="K12"><rect class="b" x="252" y="4441" width="385" height="136" rx="8"/><text class="t" transform="translate(262,4467.4)"><tspan x="0" y="0">诸葛亮一颗忠心，两朝元老，三顾茅庐而三分</tspan><tspan x="0" y="23.8">天下，五丈原头，八卦阵中，六出祁山而七擒</tspan><tspan x="0" y="47.6">孟获。赤胆忠心，足智多谋，助他人之霸业，</tspan><tspan x="0" y="71.4">成自己之威名。出师未捷身先死，长使英雄泪</tspan><tspan x="0" y="95.2">满襟。</tspan></text></g>
<g id="K13"><rect class="b" x="322" y="4617" width="385" height="159" rx="8"/><text class="t" transform="translate(332,4643.4)"><tspan x="0" y="0">王羲之狼毫一挥是生命的舞动，砚纸是他的舞</tspan><tspan x="0" y="23.8">台，满载生命的厚重，楷如泰山稳立，行如清</tspan><tspan x="0" y="47.6">冽之风，草如龙凤舞动，他让人们真正了解什</tspan><tspan x="0" y="71.4">么是书法，他让世界了解中国书法的伟博，兰</tspan><tspan x="0" y="95.2">亭已矣，永不逝去的的《兰亭集序》中最豪迈</tspan><tspan x="0" y="119">的一次舞动。</tspan></text></g>
<g id="K14"><rect class="b" x="247" y="4911" width="385" height="134" rx="8"/><text class="t" transform="translate(257,4937.4)"><tspan x="0" y="0">十里洋场的意乱神迷中，清醒着一处清幽，她</tspan><tspan x="0" y="23.8">是一枝气质媚人的蕙兰。她用敏感的笔触，红</tspan><tspan x="0" y="47.6">色的激情，喷涌出闺阁的意味、洋房的欲望，</tspan><tspan x="0" y="71.4">抒写了一个个淋漓的灵魂后，乘着它们渐行渐</tspan><tspan x="0" y="95.2">远，暗洒一路幽香，任由裙裾飞扬。</tspan></text></g>
<g id="K15"><rect class="b" x="247" y="5087" width="385" height="135" rx="8"/><text class="t" transform="translate(257,5113.4)"><tspan x="0" y="0">是他，承载起最早的飞天梦想，是他，为人类</tspan><tspan x="0" y="23.8">装上梦的翅膀。火光耀眼，他无悔生命的短暂</tspan><tspan x="0" y="47.6">，尘土飞扬，掩不住他真情的渴望。他用生命</tspan><tspan x="0" y="71.4">的代价换取了一次人类文明的飞跃。湛蓝的天</tspan><tspan x="0" y="95.2">空中永远舞着他无畏的英雄。</tspan></text></g>
<g id="K16"><rect class="b" x="271" y="5262" width="385" height="88" rx="8"/><text class="t" transform="translate(281,5288.4)"><tspan x="0" y="0">王勃生命，对他太吝啬了!他却仍在身后留了</tspan><tspan x="0" y="23.8">累累秋实。他没有被时间谋杀，反而跨越了生</tspan><tspan x="0" y="47.6">命，永远灿烂于文学历史的天空。</tspan></text></g>
</g>
</g>
</svg>
